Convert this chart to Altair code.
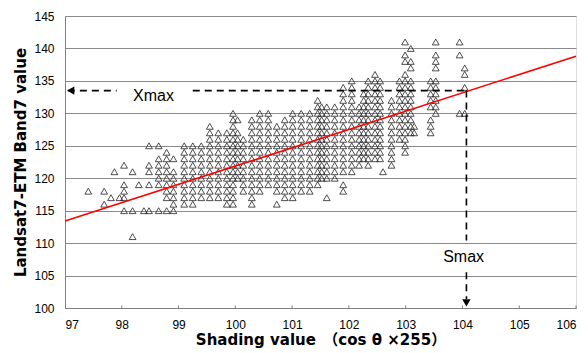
import altair as alt
import pandas as pd

# ---- scatter data: column x value and the y values stacked in it ----
col_x = [97.41, 97.69, 97.81, 97.87, 97.96, 98.04, 98.19, 98.30, 98.39, 98.48,
         98.65, 98.79, 98.91, 99.10, 99.25, 99.40, 99.55, 99.70, 99.85, 99.96,
         100.04, 100.14, 100.29, 100.43, 100.58, 100.73, 100.87, 101.01, 101.16,
         101.31, 101.45, 101.52, 101.61, 101.75, 101.90, 102.05, 102.18, 102.26,
         102.34, 102.46, 102.55, 102.60, 102.75, 102.89, 102.99, 103.09, 103.15,
         103.44, 103.53, 103.95, 104.04]
col_y = [
    [118],
    [118, 116],
    [117],
    [121],
    [117],
    [122, 119, 118, 117, 115],
    [121, 115, 111],
    [119],
    [115],
    [125, 122, 121, 119, 115],
    [125, 123, 122, 121, 120, 119, 115],
    [124, 123, 122, 121, 120, 119, 118, 117, 115],
    [123, 121, 120, 119, 118, 117, 116, 115],
    [125, 124, 123, 122, 121, 120, 119, 118, 117, 116],
    [125, 124, 123, 122, 121, 120, 119, 118, 117, 116],
    [125, 124, 123, 122, 121, 120, 119, 118, 117],
    [128, 127, 126, 125, 124, 123, 122, 121, 120, 119, 118, 117],
    [127, 126, 125, 124, 123, 122, 121, 120, 119, 118, 117],
    [127, 126, 125, 124, 123, 122, 121, 120, 119, 118, 117, 116],
    [130, 129, 128, 127, 126, 125, 124, 123, 122, 121, 120, 119, 118, 117, 116],
    [129, 127, 126, 125, 124, 123, 122, 121, 120],
    [126, 125, 124, 123, 122, 121, 120, 119, 118],
    [129, 128, 127, 126, 125, 124, 123, 122, 121, 120, 119, 118, 117, 116],
    [130, 129, 128, 127, 126, 125, 124, 123, 122, 121, 120, 119, 118],
    [130, 129, 128, 127, 126, 125, 124, 123, 122, 121, 120, 119],
    [128, 127, 126, 125, 124, 123, 122, 121, 120, 119, 118, 116],
    [129, 128, 127, 126, 125, 124, 123, 122, 121, 120, 119, 118, 117],
    [130, 129, 128, 127, 126, 125, 124, 123, 122, 121, 120, 119, 118, 117],
    [130, 129, 128, 127, 126, 125, 124, 123, 122, 121, 120, 119, 118],
    [130, 129, 128, 127, 126, 125, 124, 123, 122, 121, 120, 119, 118],
    [132, 131, 130, 129, 128, 127, 126, 125, 124, 123, 122, 121, 120, 119],
    [131, 130, 129, 128, 127, 126, 125, 124, 123, 122, 121, 120],
    [131, 130, 129, 128, 127, 126, 125, 124, 123, 122, 121, 120, 117],
    [131, 130, 129, 128, 127, 126, 125, 124, 123, 122, 121, 120],
    [134, 133, 132, 131, 130, 129, 128, 127, 126, 125, 124, 123, 122, 121, 119, 118],
    [135, 134, 133, 132, 131, 130, 129, 128, 127, 126, 125, 124, 123, 122, 121],
    [131, 130, 129, 128, 127, 126, 125, 124, 123, 122],
    [133, 132, 131, 130, 129, 128, 127, 126, 125, 124, 123],
    [135, 134, 133, 132, 131, 130, 129, 128, 127, 126, 125, 124, 123, 122],
    [136, 135, 134, 133, 132, 131, 130, 129, 128, 127, 126, 125, 124, 123],
    [135, 134, 133, 132, 131, 130, 129, 128, 127, 126, 125, 124, 123],
    [121],
    [132, 131, 130, 129, 128, 127, 126, 125, 124, 123, 122],
    [135, 134, 133, 132, 131, 130, 129, 128, 127, 126],
    [141, 139, 138, 136, 135, 134, 133, 132, 131, 130, 129, 128, 127, 126, 125, 124],
    [140, 138, 137, 135, 134, 133, 132, 131, 130, 129, 128, 127],
    [128, 127],
    [135, 134, 133, 132, 131, 129, 128, 127],
    [141, 139, 138, 137, 135, 134, 133, 132, 131, 130],
    [141, 139, 130],
    [137, 136, 134, 130],
]

# regression line end points
reg_x = [97, 106]
reg_y = [113.4, 138.8]

# Xmax / Smax annotation
smax_x = 104.07
xmax_y = 133.5
h_seg_x1 = [97.05, 99.25]
h_seg_x2 = [97.91, smax_x]
v_seg_y1 = [xmax_y, 105.5]
v_seg_y2 = [110.4, 101.4]
x_tick_vals = [98, 99, 100, 101, 102, 103, 104, 105, 106]
x_label_vals = [97, 98, 99, 100, 101, 102, 103, 104, 105, 106]
y_label_vals = [100, 105, 110, 115, 120, 125, 130, 135, 140, 145]

rows = []
for x, ys in zip(col_x, col_y):
    for y in ys:
        rows.append({"x": x, "y": y})
pts = pd.DataFrame(rows)

xs = alt.Scale(domain=[97, 106], nice=False, zero=False)
ys_ = alt.Scale(domain=[100, 145], nice=False, zero=False)

X_TITLE = "Shading value\u3000（cos θ ×255）"
Y_TITLE = "Landsat7-ETM Band7 value"

x_axis = alt.Axis(values=x_label_vals, format="d", grid=False, ticks=False,
                  labelOverlap=False,
                  domainColor="#808080", labelFontSize=12, labelPadding=11,
                  labelFont="Liberation Sans", labelColor="black",
                  title=X_TITLE, titleFontSize=15,
                  titleFont="DejaVu Sans, Noto Sans CJK JP", titleFontWeight="bold",
                  titlePadding=2, titleColor="black")
y_axis = alt.Axis(values=y_label_vals, format="d", grid=True, gridColor="#8a8a8a",
                  labelOverlap=False,
                  gridWidth=1, ticks=False, domainColor="#808080",
                  labelFontSize=12, labelPadding=11, labelFont="Liberation Sans",
                  labelColor="black",
                  title=Y_TITLE, titleFontSize=15,
                  titleFont="DejaVu Sans", titleFontWeight="bold",
                  titlePadding=5, titleColor="black")


def X(field="x"):
    return alt.X(f"{field}:Q", scale=xs, axis=x_axis, title=X_TITLE)


def Y(field="y"):
    return alt.Y(f"{field}:Q", scale=ys_, axis=y_axis, title=Y_TITLE)


scatter = alt.Chart(pts).mark_point(shape="triangle-up", filled=False, size=46,
                                    color="#222222", strokeWidth=0.8, opacity=1).encode(
    x=X(), y=Y())

ticks = alt.Chart(pd.DataFrame({"x": x_tick_vals, "y": [100] * 9, "y2": [100.4] * 9})).mark_rule(
    color="#808080", strokeWidth=1).encode(x=X(), y=Y(), y2="y2:Q")

reg = alt.Chart(pd.DataFrame({"x": reg_x, "y": reg_y})).mark_line(
    color="#ff0000", strokeWidth=1.6).encode(x=X(), y=Y())

hdf = pd.DataFrame({"x": h_seg_x1, "x2": h_seg_x2, "y": [xmax_y, xmax_y]})
hline = alt.Chart(hdf).mark_rule(color="black", strokeWidth=1.6, strokeDash=[7, 5]).encode(
    x=X(), x2="x2:Q", y=Y())

vdf = pd.DataFrame({"x": [smax_x, smax_x], "y": v_seg_y1, "y2": v_seg_y2})
vline = alt.Chart(vdf).mark_rule(color="black", strokeWidth=1.6, strokeDash=[7, 5]).encode(
    x=X(), y=Y(), y2="y2:Q")

arrow_l = alt.Chart(pd.DataFrame({"x": [97.1], "y": [xmax_y]})).mark_point(
    shape="triangle-left", filled=True, size=70, color="black", opacity=1).encode(x=X(), y=Y())
arrow_d = alt.Chart(pd.DataFrame({"x": [smax_x], "y": [100.8]})).mark_point(
    shape="triangle-down", filled=True, size=70, color="black", opacity=1).encode(x=X(), y=Y())

labels = alt.Chart(pd.DataFrame({"x": [98.56, 104.02], "y": [132.6, 107.9],
                                 "t": ["Xmax", "Smax"]})).mark_text(
    fontSize=16, font="Liberation Sans", color="black", align="center", baseline="middle").encode(
    x=X(), y=Y(), text="t:N")

chart = alt.layer(scatter, ticks, reg, hline, vline, arrow_l, arrow_d, labels).properties(
    width=511, height=292,
    autosize=alt.AutoSizeParams(type="none"),
    padding={"left": 57, "top": 8, "right": 4, "bottom": 48},
).configure_view(stroke=None).configure(background="white")

chart.save("out.html", embed_options={"renderer": "svg", "actions": False})
